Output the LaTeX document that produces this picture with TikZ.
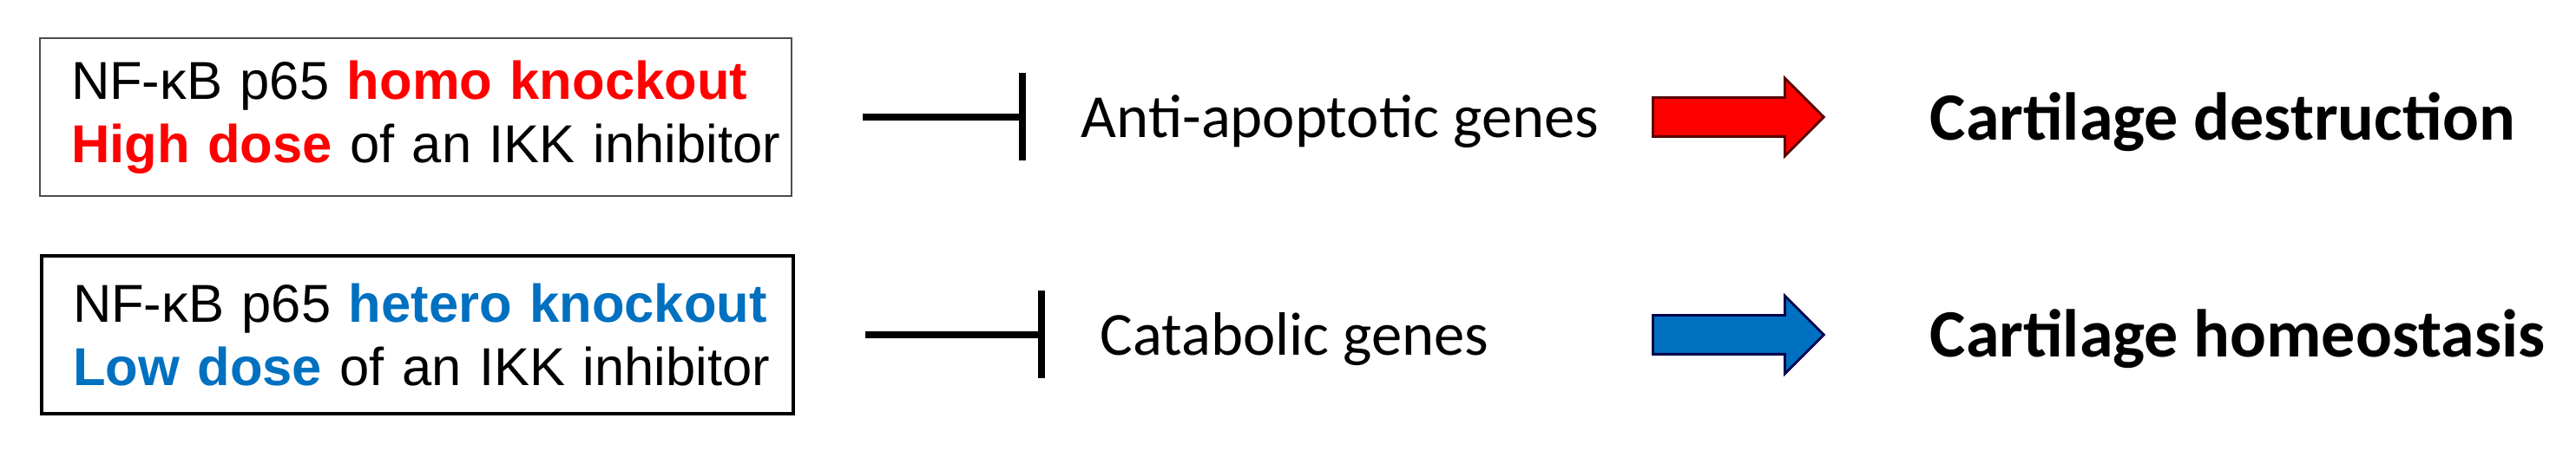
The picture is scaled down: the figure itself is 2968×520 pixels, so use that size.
\documentclass[tikz,border=0pt]{standalone}
\usepackage{fontspec}
\setmainfont{Liberation Sans}
\newfontfamily\calibri{Carlito}
\usetikzlibrary{arrows.meta}
\usetikzlibrary{shapes.arrows}
\definecolor{knockred}{HTML}{FF0000}
\definecolor{knockblue}{HTML}{0070C0}

\begin{document}
\begin{tikzpicture}[x = 0.1mm, y = -0.1mm,
		condbox/.style = {draw, rectangle, inner xsep = 3.6mm, inner ysep = 0pt, text width = 79.4mm, minimum height = 18.2mm, align = left, font = \fontsize{17.5}{20.8}\selectfont},
		genes/.style = {anchor = base west, inner sep = 0pt, font = \calibri\fontsize{20.1}{24}\selectfont},
		outcome/.style = {anchor = base west, inner sep = 0pt, font = \calibri\bfseries\fontsize{22.2}{26}\selectfont},
		inhibit/.style = {black, line width = 2pt, shorten <= 8.1mm, shorten >= 6.3mm, -{Bar[width = 10.1mm, line width = 2.3pt]}},
		block/.style = {single arrow, draw, line width = 0.8pt, anchor = tail, minimum height = 19.7mm, minimum width = 8.7mm, inner sep = 0pt, inner ysep = 2.1mm, single arrow head extend = 2.25mm}]
	\useasboundingbox (0, 0) rectangle (2968, 520);
	% left boxes
	\node [condbox, draw = black!70, line width = 0.8pt] (homo) at (479, 135) {\mbox{NF-κB p65 \textcolor{knockred}{\textbf{homo knockout}}}\\\mbox{\textcolor{knockred}{\textbf{High dose}} of an IKK inhibitor}};
	\node [condbox, line width = 1.4pt] (hetero) at (481, 386) {\mbox{NF-κB p65 \textcolor{knockblue}{\textbf{hetero knockout}}}\\\mbox{\textcolor{knockblue}{\textbf{Low dose}} of an IKK inhibitor}};
	% genes
	\node [genes] (antiapop) at (1245, 159) {Anti-apoptotic genes};
	\node [genes] (catabolic) at (1267, 410) {Catabolic genes};
	\draw [inhibit] (homo.east) -- (homo.east -| antiapop.west);
	\draw [inhibit] (hetero.east) -- (hetero.east -| catabolic.west);
	% block arrows and outcomes
	\node [block, fill = knockred, draw = red!35!black] (redblock) at (1903, 135) {};
	\node [block, fill = knockblue, draw = blue!30!black] (blueblock) at (1903, 386) {};
	\node [outcome] (destruction) at (2223, 162) {Cartilage destruction};
	\node [outcome] (homeostasis) at (2223, 412) {Cartilage homeostasis};
\end{tikzpicture}
\end{document}
